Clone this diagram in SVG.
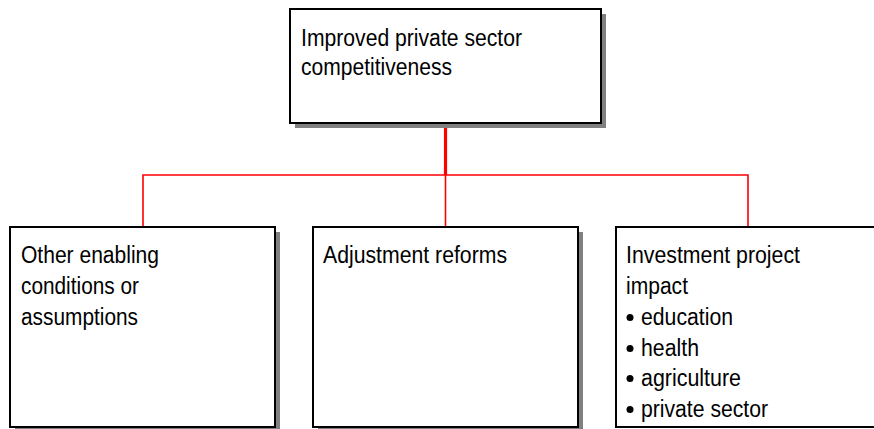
<svg xmlns="http://www.w3.org/2000/svg" width="874" height="429" viewBox="0 0 874 429">
<style>
.box{fill:#ffffff;stroke:#000000;stroke-width:2}
.shadow{fill:#808080}
.t{font-family:"Liberation Sans Narrow","Liberation Sans",Arial,sans-serif;font-size:23px;fill:#000000}
.c{fill:none;stroke:#ff0000;stroke-width:1.6}
</style>
<rect width="874" height="429" fill="#ffffff"/>
<g id="connectors">
<line class="c" x1="445.5" y1="123" x2="445.5" y2="175" style="stroke-width:3.2"/>
<polyline class="c" points="143,227 143,175 748,175 748,227"/>
<line class="c" x1="445.5" y1="175" x2="445.5" y2="227"/>
</g>
<g id="top">
<rect class="shadow" x="295" y="14" width="311" height="114"/>
<rect class="box" x="290" y="9" width="311" height="114"/>
<text class="t" x="301" y="46" textLength="221" lengthAdjust="spacingAndGlyphs">Improved private sector</text>
<text class="t" x="301" y="75" textLength="151" lengthAdjust="spacingAndGlyphs">competitiveness</text>
</g>
<g id="other">
<rect class="shadow" x="15" y="232" width="265" height="200"/>
<rect class="box" x="10" y="227" width="265" height="200"/>
<text class="t" x="21" y="263" textLength="138" lengthAdjust="spacingAndGlyphs">Other enabling</text>
<text class="t" x="21" y="294" textLength="118" lengthAdjust="spacingAndGlyphs">conditions or</text>
<text class="t" x="21" y="325" textLength="117" lengthAdjust="spacingAndGlyphs">assumptions</text>
</g>
<g id="adjust">
<rect class="shadow" x="318" y="232" width="265" height="200"/>
<rect class="box" x="313" y="227" width="265" height="200"/>
<text class="t" x="323" y="263" textLength="184" lengthAdjust="spacingAndGlyphs">Adjustment reforms</text>
</g>
<g id="invest">
<rect class="box" x="616" y="227" width="270" height="200"/>
<text class="t" x="626" y="263" textLength="174" lengthAdjust="spacingAndGlyphs">Investment project</text>
<text class="t" x="626" y="294" textLength="62" lengthAdjust="spacingAndGlyphs">impact</text>
<circle cx="630" cy="317.5" r="3.5"/>
<text class="t" x="641" y="325" textLength="92" lengthAdjust="spacingAndGlyphs">education</text>
<circle cx="630" cy="348.5" r="3.5"/>
<text class="t" x="641" y="356" textLength="58" lengthAdjust="spacingAndGlyphs">health</text>
<circle cx="630" cy="378.5" r="3.5"/>
<text class="t" x="641" y="386" textLength="100" lengthAdjust="spacingAndGlyphs">agriculture</text>
<circle cx="630" cy="409.5" r="3.5"/>
<text class="t" x="641" y="417" textLength="127" lengthAdjust="spacingAndGlyphs">private sector</text>
</g>
</svg>
